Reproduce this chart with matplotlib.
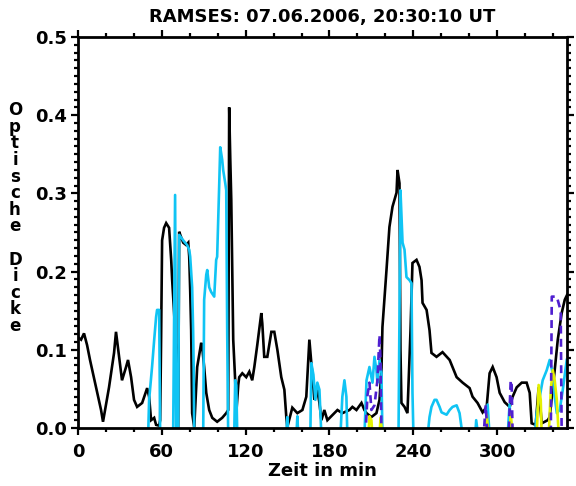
import matplotlib
matplotlib.use("Agg")
import matplotlib.pyplot as plt
from matplotlib.ticker import MultipleLocator, FormatStrFormatter

# Optical depth time series (minutes since start, optical depth).
# Values below zero lie under the plotted range and are clipped by the axes.
black_pts = [
    (0, 0.116), (2.2, 0.113), (4.3, 0.121), (6.5, 0.106), (8.6, 0.087), (12.9, 0.052),
    (16.5, 0.023), (17.9, 0.008), (22.2, 0.052), (25.8, 0.096), (27.2, 0.123), (29.4, 0.091),
    (31.5, 0.061), (34.4, 0.078), (35.8, 0.087), (38.0, 0.065), (40.1, 0.036), (42.3, 0.027),
    (45.9, 0.032), (49.5, 0.051), (50.9, 0.040), (52.3, 0.010), (54.5, 0.013), (55.9, 0.004),
    (58.1, 0.003), (58.8, 0.010), (59.5, 0.116), (60.2, 0.240), (61.6, 0.256), (63.1, 0.262),
    (65.2, 0.256), (66.7, 0.215), (67.4, 0.189), (68.8, 0.147), (70.3, 0.096), (71.0, 0.0),
    (71.7, 0.0), (72.4, 0.251), (73.8, 0.244), (75.3, 0.237), (77.4, 0.234), (78.9, 0.237),
    (79.6, 0.219), (80.3, 0.176), (81.0, 0.125), (81.7, 0.019), (83.2, 0.001), (85.3, 0.078),
    (88.2, 0.109), (88.9, 0.104), (90.3, 0.078), (91.8, 0.045), (93.9, 0.023), (96.1, 0.013),
    (99.6, 0.008), (103.2, 0.013), (106.1, 0.019), (107.5, 0.023), (108.2, 0.410), (109.0, 0.343),
    (109.7, 0.292), (110.4, 0.202), (111.1, 0.113), (112.5, 0.061), (113.3, 0.019), (114.7, 0.055),
    (115.4, 0.065), (117.6, 0.070), (120.4, 0.065), (122.6, 0.072), (124.7, 0.061), (126.2, 0.078),
    (128.3, 0.106), (131.2, 0.147), (131.9, 0.134), (133.3, 0.091), (135.5, 0.091), (138.4, 0.123),
    (140.5, 0.123), (142.7, 0.100), (145.5, 0.065), (147.7, 0.049), (149.1, 0.014), (149.8, 0.001),
    (153.4, 0.026), (157.0, 0.019), (160.6, 0.023), (163.4, 0.040), (165.6, 0.113), (167.0, 0.083),
    (169.2, 0.036), (171.3, 0.049), (172.8, 0.032), (174.2, 0.010), (176.3, 0.023), (178.5, 0.010),
    (183.5, 0.019), (185.7, 0.023), (189.2, 0.019), (194.3, 0.023), (196.4, 0.027), (199.3, 0.023),
    (202.9, 0.032), (205.0, 0.023), (206.5, 0.019), (210.0, 0.014), (213.6, 0.019), (215.8, 0.036),
    (217.2, 0.074), (217.9, 0.129), (220.8, 0.202), (222.9, 0.257), (225.1, 0.283), (228.0, 0.301),
    (228.7, 0.330), (230.1, 0.313), (230.8, 0.100), (231.5, 0.032), (233.7, 0.027), (235.8, 0.019),
    (238.0, 0.125), (239.4, 0.211), (242.3, 0.215), (244.4, 0.206), (245.9, 0.189), (246.6, 0.160),
    (249.5, 0.151), (251.6, 0.125), (253.0, 0.096), (256.6, 0.091), (260.9, 0.097), (266.0, 0.087),
    (271.0, 0.065), (275.3, 0.058), (280.3, 0.051), (282.4, 0.040), (286.0, 0.032), (289.6, 0.020),
    (292.5, 0.027), (294.6, 0.070), (296.8, 0.078), (299.6, 0.065), (301.8, 0.045), (305.4, 0.033),
    (309.0, 0.027), (311.1, 0.040), (314.0, 0.052), (317.6, 0.058), (321.1, 0.058), (323.3, 0.045),
    (324.7, 0.006), (327.6, 0.004), (329.7, 0.052), (331.9, 0.006), (336.2, 0.010), (337.6, 0.014),
    (341.2, 0.074), (343.4, 0.113), (346.2, 0.147), (348.4, 0.164), (350.0, 0.170),
]

cyan_pts = [
    (50.2, -0.01), (50.9, 0.036), (53.0, 0.078), (54.5, 0.112), (55.9, 0.142), (56.6, 0.151),
    (58.1, 0.151), (58.8, -0.01),
    (68.1, -0.01), (69.5, 0.298), (70.3, -0.01),
    (71.7, -0.01), (72.4, 0.247), (75.3, 0.240), (78.1, 0.234), (79.6, 0.228), (80.3, 0.219),
    (81.7, 0.180), (82.4, 0.125), (82.8, 0.078), (83.2, -0.01),
    (89.6, -0.01), (90.3, 0.164), (91.8, 0.196), (92.5, 0.202), (93.9, 0.180), (95.3, 0.174),
    (97.5, 0.168), (98.9, 0.215), (99.6, 0.219), (101.1, 0.313), (101.8, 0.359), (103.2, 0.343),
    (103.9, 0.330), (105.4, 0.313), (106.1, 0.304), (106.8, 0.121), (107.5, -0.01),
    (111.8, -0.01), (112.5, 0.061), (113.3, 0.055), (114.0, -0.01),
    (149.1, -0.01), (149.8, 0.014), (150.5, -0.01),
    (156.3, -0.01), (157.0, 0.015), (157.7, -0.01),
    (166.3, -0.01), (167.0, 0.083), (168.5, 0.068), (169.9, 0.036), (171.3, 0.058), (172.8, 0.049),
    (174.2, -0.01),
    (187.8, -0.01), (189.2, 0.040), (190.7, 0.061), (192.1, 0.040), (192.8, -0.01),
    (205.0, -0.01), (206.5, 0.061), (208.6, 0.078), (210.8, 0.058), (212.2, 0.091), (213.6, 0.074),
    (214.3, 0.058), (215.8, 0.087), (217.2, 0.070), (217.9, -0.01),
    (229.4, -0.01), (230.8, 0.304), (232.3, 0.237), (233.7, 0.228), (235.1, 0.193), (237.3, 0.189),
    (238.7, 0.185), (239.4, 0.045), (240.1, -0.01),
    (250.2, -0.01), (251.6, 0.014), (253.0, 0.027), (255.2, 0.036), (256.6, 0.036), (258.8, 0.027),
    (260.2, 0.020), (263.8, 0.017), (266.0, 0.023), (268.1, 0.027), (271.0, 0.029), (273.1, 0.019),
    (275.3, -0.01),
    (284.3, -0.01), (285.0, 0.010), (286.4, -0.01),
    (292.5, -0.01), (293.2, 0.030), (294.6, -0.01),
    (307.5, -0.01), (308.9, 0.030), (310.4, -0.01),
    (326.9, -0.01), (328.3, 0.019), (330.5, 0.040), (332.6, 0.061), (335.5, 0.074), (337.6, 0.087),
    (339.8, 0.070), (341.2, 0.040), (342.7, 0.019), (344.8, 0.023), (347.0, 0.049), (349.8, 0.087),
]

yellow_pts = [
    (207.9, -0.01), (208.6, 0.015), (210.0, 0.010), (210.8, -0.01),
    (215.8, -0.01), (216.5, 0.013), (217.9, -0.01),
    (291.8, -0.01), (292.5, 0.017), (293.9, -0.01),
    (309.0, -0.01), (309.7, 0.019), (311.1, -0.01),
    (328.3, -0.01), (329.7, 0.055), (331.2, 0.036), (331.9, -0.01),
    (336.9, -0.01), (338.4, 0.049), (339.8, 0.074), (341.2, 0.061), (342.7, 0.036), (344.1, -0.01),
]

violet_pts = [
    (205.7, -0.01), (207.2, 0.042), (208.6, 0.058), (210.0, 0.023), (212.2, 0.029), (214.3, 0.061),
    (215.8, 0.119), (216.5, 0.087), (217.2, -0.01),
    (290.3, -0.01), (291.8, 0.029), (293.2, -0.01),
    (308.2, -0.01), (309.7, 0.061), (310.4, 0.055), (311.1, -0.01),
    (338.4, -0.01), (339.1, 0.168), (342.7, 0.168), (345.5, 0.150), (346.2, -0.01),
]

title_text = "RAMSES: 07.06.2006, 20:30:10 UT"
x_label = "Zeit in min"
y_label = "Optische Dicke"

plt.rcParams['font.family'] = ['DejaVu Sans']
plt.rcParams['font.weight'] = 'bold'

W, H = 576, 486
fig = plt.figure(figsize=(W / 100, H / 100), dpi=100)
x0, x1, y0, y1 = 78, 567, 37, 428
ax = fig.add_axes([x0 / W, 1 - y1 / H, (x1 - x0) / W, (y1 - y0) / H])


def split(pts):
    return [p[0] for p in pts], [p[1] for p in pts]


bt, bv = split(black_pts)
ct, cv = split(cyan_pts)
yt, yv = split(yellow_pts)
vt, vv = split(violet_pts)

ax.plot(bt, bv, color='black', lw=1.9, solid_joinstyle='miter')
ax.plot(ct, cv, color='#10c4f4', lw=1.9)
ax.plot(yt, yv, color='#e4f000', lw=1.9)
ax.plot(vt, vv, color='#4f1fd0', lw=1.9, dashes=(3, 2))

ax.set_xlim(0, 350)
ax.set_ylim(0, 0.5)
ax.xaxis.set_major_locator(MultipleLocator(60))
ax.xaxis.set_minor_locator(MultipleLocator(20))
ax.yaxis.set_major_locator(MultipleLocator(0.1))
ax.yaxis.set_minor_locator(MultipleLocator(0.01))
ax.yaxis.set_major_formatter(FormatStrFormatter('%.1f'))

for s in ax.spines.values():
    s.set_linewidth(2.0)
ax.tick_params(which='both', direction='out', top=True, right=True,
               labeltop=False, labelright=False, width=1.6)
ax.tick_params(which='major', length=5, labelsize=13, pad=3)
ax.tick_params(which='minor', length=2.6)
ax.tick_params(axis='x', which='major', pad=6)
for lab in ax.get_xticklabels() + ax.get_yticklabels():
    lab.set_fontweight('bold')

fig.text((x0 + x1) / 2 / W, 1 - 17 / H, title_text, ha='center', va='center',
         fontsize=13, fontweight='bold')
fig.text((x0 + x1) / 2 / W, 1 - 471 / H, x_label, ha='center', va='center',
         fontsize=13, fontweight='bold')
fig.text(15 / W, 1 - 218 / H, '\n'.join(y_label), ha='center', va='center',
         fontsize=12, fontweight='bold', linespacing=0.9)

fig.savefig('out.png', dpi=100)
